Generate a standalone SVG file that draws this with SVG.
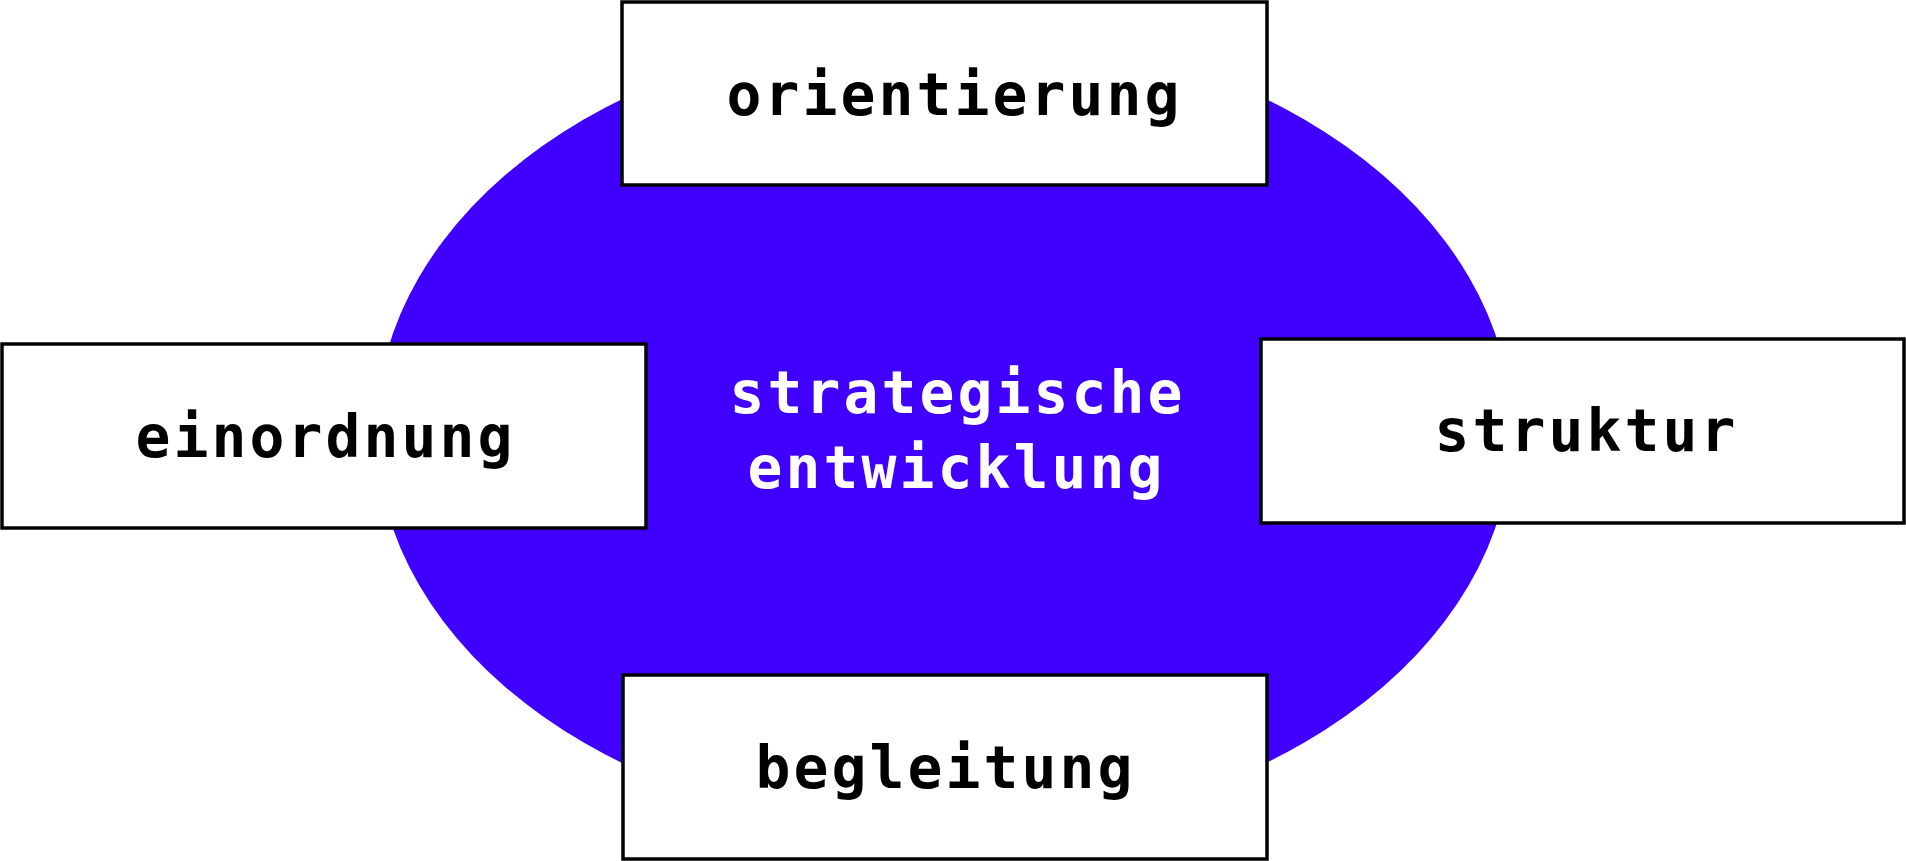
<svg xmlns="http://www.w3.org/2000/svg" width="1906" height="861" viewBox="0 0 1906 861">
  <style>
    .box { fill: #ffffff; stroke: #000000; stroke-width: 3.5; }
    .lbl { font-family: "DejaVu Sans Mono", "Liberation Mono", monospace; font-weight: bold; font-size: 58px; letter-spacing: 3.1px; text-anchor: middle; fill: #000000; }
    .core { fill: #ffffff; }
  </style>
  <rect x="0" y="0" width="1906" height="861" fill="#ffffff"/>
  <g id="center">
    <ellipse cx="944" cy="431" rx="568" ry="403" fill="#4000ff"/>
    <text class="lbl core" x="957.5" y="413">strategische</text>
    <text class="lbl core" x="956.5" y="488">entwicklung</text>
  </g>
  <g id="orientierung">
    <rect class="box" x="622" y="2" width="645" height="183"/>
    <text class="lbl" x="954.5" y="115">orientierung</text>
  </g>
  <g id="einordnung">
    <rect class="box" x="2" y="344" width="644" height="184"/>
    <text class="lbl" x="325.5" y="457">einordnung</text>
  </g>
  <g id="struktur">
    <rect class="box" x="1261" y="339" width="643" height="184"/>
    <text class="lbl" x="1586.5" y="451">struktur</text>
  </g>
  <g id="begleitung">
    <rect class="box" x="623" y="675" width="644" height="184"/>
    <text class="lbl" x="945.5" y="788">begleitung</text>
  </g>
</svg>
